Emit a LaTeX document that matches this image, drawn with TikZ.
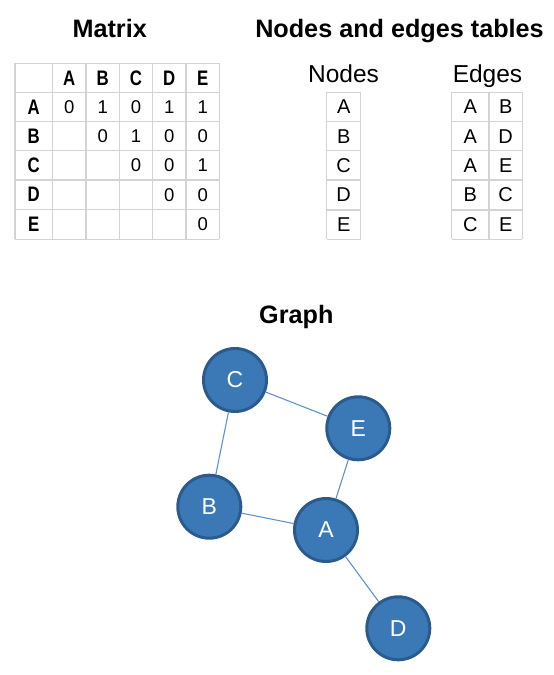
\documentclass[tikz,border=0pt]{standalone}
\usepackage{fontspec}
\setmainfont{Liberation Sans}
\definecolor{gridc}{HTML}{D3D3D3}
\definecolor{nodefill}{HTML}{3B79B6}
\definecolor{nodeborder}{HTML}{2A5B8C}
\definecolor{edgec}{HTML}{5F92C8}
\newcommand{\narrowtxt}[1]{\scalebox{0.8}[1]{#1}}
\begin{document}
\begin{tikzpicture}[x=1pt,y=-1pt,
  title/.style={font=\bfseries\fontsize{25.2}{29}\selectfont, anchor=base, inner sep=0pt},
  sub/.style={font=\fontsize{24.5}{28}\selectfont, anchor=base, inner sep=0pt},
  hdr/.style={font=\bfseries\fontsize{21}{24}\selectfont, inner sep=0pt},
  val/.style={font=\fontsize{18.5}{22}\selectfont, inner sep=0pt},
  tval/.style={font=\fontsize{20}{24}\selectfont, inner sep=0pt},
  gridline/.style={draw=gridc, line width=1.2pt},
  gnode/.style={circle, minimum size=63pt, inner sep=0pt, fill=nodefill, draw=nodeborder, line width=3pt, text=white, font=\fontsize{23}{26}\selectfont},
  gedge/.style={draw=edgec, line width=1.1pt}]
\useasboundingbox (0,0) rectangle (554,675);
% titles
\node[title] (tmat) at (109.7,37.5) {Matrix};
\node[title] (tne) at (399.5,37.5) {Nodes and edges tables};
\node[title] (tgr) at (296.3,323.3) {Graph};
\node[sub] (tnodes) at (343.5,82.3) {Nodes};
\node[sub] (tedges) at (487.5,82.3) {Edges};
% matrix grid
\foreach \x in {15,52.7,86,119.3,152.7,186,219.3}
  \draw[gridline] (\x,63.3) -- (\x,239.3);
\foreach \y in {63.3,92.3,121.7,150.7,180,209.3,239.3}
  \draw[gridline] (15,\y) -- (219.3,\y);
% matrix headers
\node[hdr] (mhA) at (69.3,77.8) {\narrowtxt{A}};
\node[hdr] (mhB) at (102.7,77.8) {\narrowtxt{B}};
\node[hdr] (mhC) at (136,77.8) {\narrowtxt{C}};
\node[hdr] (mhD) at (169.3,77.8) {\narrowtxt{D}};
\node[hdr] (mhE) at (202.7,77.8) {\narrowtxt{E}};
\node[hdr] (mrA) at (33.8,107) {\narrowtxt{A}};
\node[hdr] (mrB) at (33.8,136.2) {\narrowtxt{B}};
\node[hdr] (mrC) at (33.8,165.3) {\narrowtxt{C}};
\node[hdr] (mrD) at (33.8,194.7) {\narrowtxt{D}};
\node[hdr] (mrE) at (33.8,224.3) {\narrowtxt{E}};
% values
\node[val] (vAA) at (69.3,107) {0};
\node[val] (vAB) at (102.7,107) {1};
\node[val] (vAC) at (136,107) {0};
\node[val] (vAD) at (169.3,107) {1};
\node[val] (vAE) at (202.7,107) {1};
\node[val] (vBB) at (102.7,136.2) {0};
\node[val] (vBC) at (136,136.2) {1};
\node[val] (vBD) at (169.3,136.2) {0};
\node[val] (vBE) at (202.7,136.2) {0};
\node[val] (vCC) at (136,165.3) {0};
\node[val] (vCD) at (169.3,165.3) {0};
\node[val] (vCE) at (202.7,165.3) {1};
\node[val] (vDD) at (169.3,194.7) {0};
\node[val] (vDE) at (202.7,194.7) {0};
\node[val] (vEE) at (202.7,224.3) {0};
% nodes table
\foreach \x in {326.7,360.7}
  \draw[gridline] (\x,92.3) -- (\x,239.3);
\foreach \y in {92.3,121.7,150.7,180,210,239.3}
  \draw[gridline] (326.7,\y) -- (360.7,\y);
\node[tval] (nA) at (343.7,107) {A};
\node[tval] (nB) at (343.7,136.2) {B};
\node[tval] (nC) at (343.7,165.3) {C};
\node[tval] (nD) at (343.7,195) {D};
\node[tval] (nE) at (343.7,224.7) {E};
% edges table
\foreach \x in {451.7,489,522.3}
  \draw[gridline] (\x,92.3) -- (\x,239.3);
\foreach \y in {92.3,121.7,150.7,180,210,239.3}
  \draw[gridline] (451.7,\y) -- (522.3,\y);
\node[tval] (e1a) at (470.3,107) {A};
\node[tval] (e1b) at (505.7,107) {B};
\node[tval] (e2a) at (470.3,136.2) {A};
\node[tval] (e2b) at (505.7,136.2) {D};
\node[tval] (e3a) at (470.3,165.3) {A};
\node[tval] (e3b) at (505.7,165.3) {E};
\node[tval] (e4a) at (470.3,195) {B};
\node[tval] (e4b) at (505.7,195) {C};
\node[tval] (e5a) at (470.3,224.7) {C};
\node[tval] (e5b) at (505.7,224.7) {E};
% graph
\node[gnode] (C) at (235,380) {C};
\node[gnode] (E) at (358.3,428.3) {E};
\node[gnode] (B) at (209.3,506.7) {B};
\node[gnode] (A) at (326,530) {A};
\node[gnode] (D) at (398.3,628.3) {D};
\draw[gedge] (C) -- (E);
\draw[gedge] (C) -- (B);
\draw[gedge] (B) -- (A);
\draw[gedge] (A) -- (E);
\draw[gedge] (A) -- (D);
\end{tikzpicture}
\end{document}
